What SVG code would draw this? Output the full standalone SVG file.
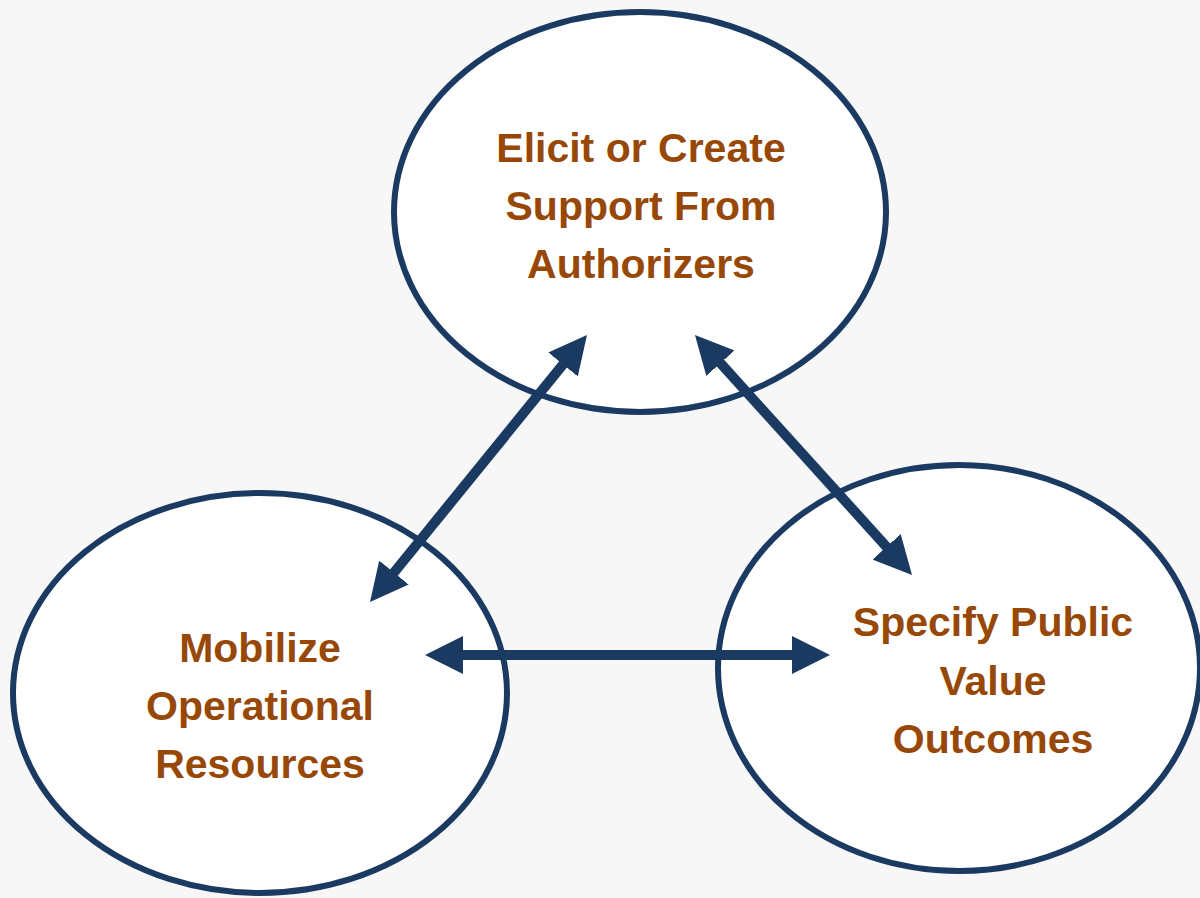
<svg xmlns="http://www.w3.org/2000/svg" width="1200" height="898" viewBox="0 0 1200 898">
<style>
.node ellipse{fill:#ffffff;stroke:#1a3a62;stroke-width:6}
.node text{font-family:"Liberation Sans",Arial,sans-serif;font-weight:bold;font-size:41px;fill:#984806;text-anchor:middle}
.conn line{stroke:#1a3a62;stroke-width:10;marker-start:url(#ah);marker-end:url(#ah)}
</style>
<defs>
<marker id="ah" viewBox="0 0 38 38" markerWidth="38" markerHeight="38" refX="2" refY="19" markerUnits="userSpaceOnUse" orient="auto-start-reverse">
<path d="M0,0 L38,19 L0,38 Z" fill="#1a3a62"/>
</marker>
</defs>
<rect width="1200" height="898" fill="#f7f7f7"/>
<g id="node-authorizers" class="node">
<ellipse cx="640" cy="212" rx="246" ry="200"/>
<text x="641" y="162">Elicit or Create</text>
<text x="641" y="220">Support From</text>
<text x="641" y="278">Authorizers</text>
</g>
<g id="node-operational" class="node">
<ellipse cx="260" cy="693" rx="247" ry="200"/>
<text x="260" y="662">Mobilize</text>
<text x="260" y="720">Operational</text>
<text x="260" y="778">Resources</text>
</g>
<g id="node-publicvalue" class="node">
<ellipse cx="959" cy="668" rx="241" ry="203"/>
<text x="993" y="636">Specify Public</text>
<text x="993" y="695">Value</text>
<text x="993" y="753">Outcomes</text>
</g>
<g id="connectors" class="conn">
<line x1="564.3" y1="362.9" x2="392.7" y2="574.1"/>
<line x1="719.1" y1="361.7" x2="887.9" y2="548.3"/>
<line x1="461" y1="655" x2="794" y2="655"/>
</g>
</svg>
